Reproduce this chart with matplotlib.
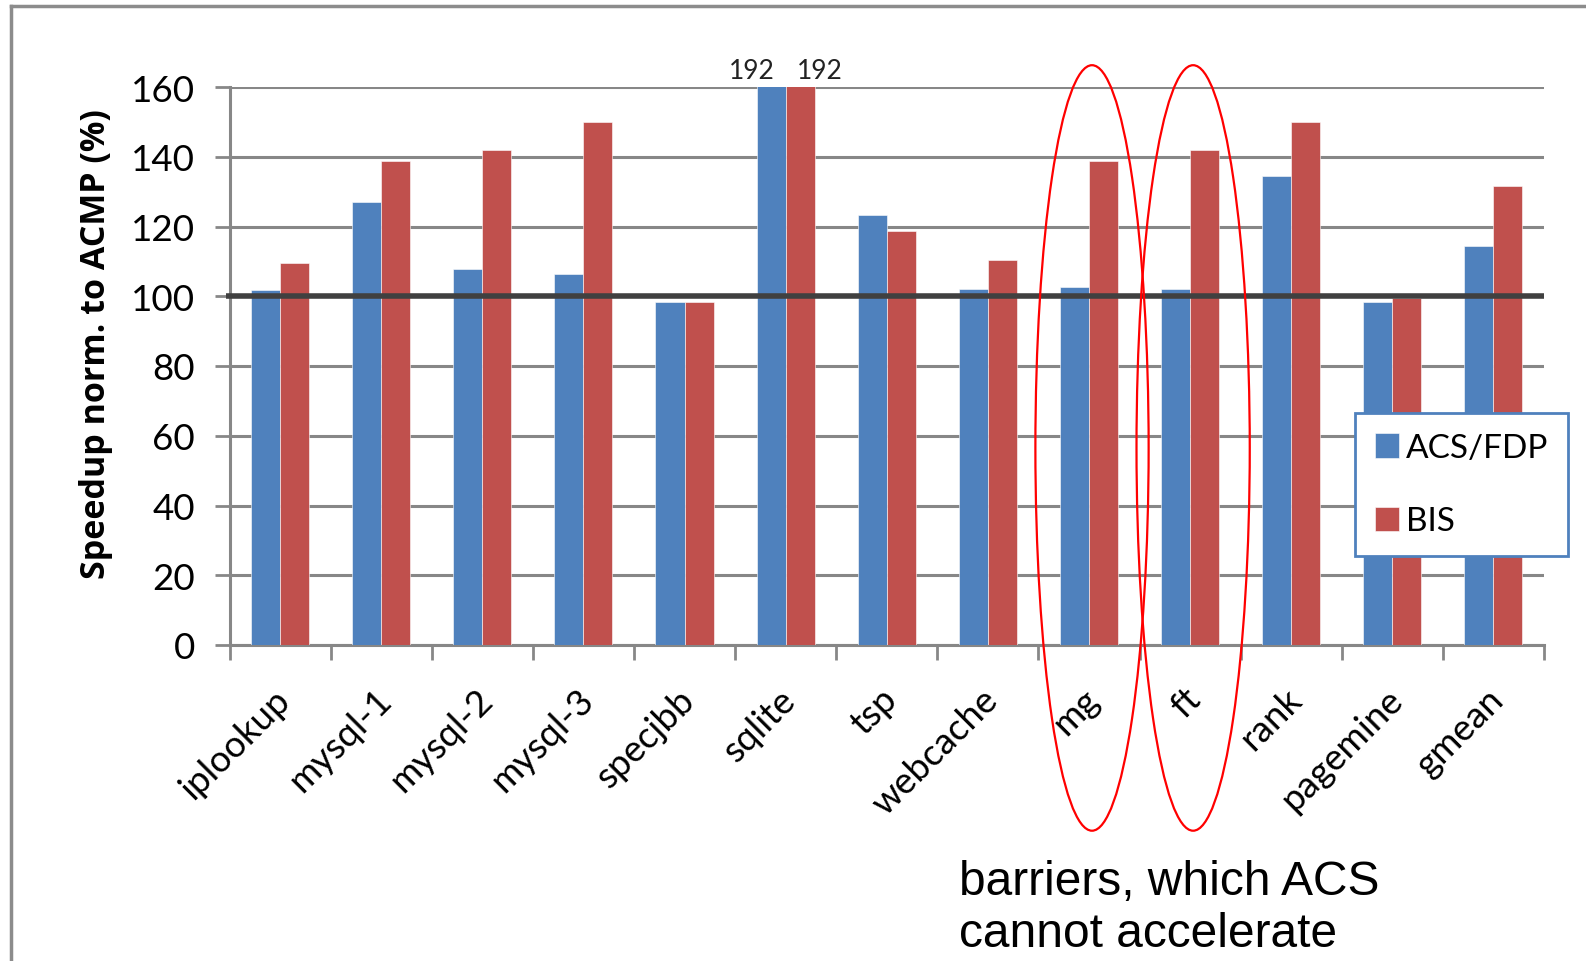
import matplotlib
matplotlib.use("Agg")
import matplotlib.pyplot as plt
from matplotlib.patches import Ellipse
from matplotlib.lines import Line2D
import numpy as np

categories = ["iplookup", "mysql-1", "mysql-2", "mysql-3", "specjbb", "sqlite",
              "tsp", "webcache", "mg", "ft", "rank", "pagemine", "gmean"]
acs_fdp = [101.8, 127.1, 107.8, 106.5, 98.3, 192, 123.3, 102.2, 102.7, 102.2, 134.6, 98.3, 114.3]
bis = [109.6, 138.8, 141.8, 150.1, 98.3, 192, 118.6, 110.5, 138.8, 141.8, 150.1, 99.5, 131.5]
series_names = ["ACS/FDP", "BIS"]
yticks = [0, 20, 40, 60, 80, 100, 120, 140, 160]
ymax = 160
baseline = 100
highlight = ["mg", "ft"]
note = "barriers, which ACS\ncannot accelerate"
ylabel = "Speedup norm. to ACMP (%)"

W, H, DPI = 1586, 962, 100
fig = plt.figure(figsize=(W / DPI, H / DPI), dpi=DPI)
fig.patch.set_facecolor("white")

def fx(px):
    return px / W

def fy(py):
    return 1 - py / H

ax = fig.add_axes([fx(229.5), fy(646), fx(1544) - fx(229.5), fy(88) - fy(646)])

BLUE = "#4F81BD"
RED = "#C0504D"
GRID = "#878787"
tick_font = "Lato"

x = np.arange(len(categories))
bw = 0.287
b1 = ax.bar(x - bw / 2, acs_fdp, bw, color=BLUE, label=series_names[0], zorder=3,
            edgecolor="white", linewidth=0.4)
b2 = ax.bar(x + bw / 2, bis, bw, color=RED, label=series_names[1], zorder=3,
            edgecolor="white", linewidth=0.4)

ax.set_xlim(-0.5, len(categories) - 0.5)
ax.set_ylim(0, ymax)
ax.set_yticks(yticks)
ax.set_yticklabels([str(v) for v in yticks], fontsize=26.5, family=tick_font)
ax.yaxis.grid(True, color=GRID, linewidth=2.2, zorder=0)
ax.set_axisbelow(True)

# x ticks at category boundaries, labels at centers
ax.set_xticks(np.arange(-0.5, len(categories), 1.0))
ax.set_xticklabels([])
ax.tick_params(axis="x", which="major", length=11, width=2, color=GRID, direction="out")
ax.tick_params(axis="y", which="major", length=11, width=2, color=GRID, direction="out", pad=14)
for i, c in enumerate(categories):
    ax.annotate(c, xy=(i, 0), xycoords="data", xytext=(3.5, -35), textcoords="offset points",
                rotation=45, ha="right", va="center", rotation_mode="anchor",
                fontsize=26.5, family=tick_font, annotation_clip=False)

for s in ["top", "right"]:
    ax.spines[s].set_visible(False)
for s in ["left", "bottom"]:
    ax.spines[s].set_color(GRID)
    ax.spines[s].set_linewidth(2.2)

# baseline at 100
ax.plot([-0.53, len(categories) - 0.5], [baseline, baseline], color="#404040", lw=4,
        zorder=5, clip_on=False, solid_capstyle="butt")

# labels for clipped values
for bars, vals, dx in [(b1, acs_fdp, -14), (b2, bis, 14)]:
    for rect, v in zip(bars, vals):
        if v > ymax:
            ax.annotate(f"{v:g}", xy=(rect.get_x() + rect.get_width() / 2, ymax),
                        xytext=(dx, 3), textcoords="offset points", ha="center", va="bottom",
                        fontsize=19, family=tick_font, color="#222222", annotation_clip=False)

fig.text(fx(96), fy(344), ylabel, rotation=90, ha="center", va="center",
         fontsize=24.5, fontweight="bold", family="Open Sans")

leg = ax.legend(handles=[b1, b2], labels=series_names, loc="upper left",
                bbox_to_anchor=((1355 - 229.5) / (1544 - 229.5), (646 - 414) / (646 - 88)),
                frameon=True, fancybox=False, framealpha=1, prop={"family": tick_font, "size": 24},
                handlelength=0.72, handleheight=0.75, handletextpad=0.2, labelspacing=1.3,
                borderpad=0.6, borderaxespad=0)
leg.get_frame().set_edgecolor(BLUE)
leg.get_frame().set_linewidth(2)
leg.set_zorder(10)

# ellipses highlighting barrier benchmarks
for name in highlight:
    i = categories.index(name)
    e = Ellipse((i + 0.03, 56.5), 1.12, 219.5, transform=ax.transData, fill=False,
                edgecolor="#FF0000", lw=1.6, zorder=11, clip_on=False)
    ax.add_patch(e)

fig.text(fx(959), fy(947), note, fontsize=34.5, family="Liberation Sans", ha="left",
         va="baseline", linespacing=1.2)

# outer frame
fig.add_artist(Line2D([fx(11), fx(11)], [fy(7), 0], color="#8C8C8C", lw=2.5))
fig.add_artist(Line2D([fx(11), 1], [fy(7), fy(7)], color="#8C8C8C", lw=2.5))

fig.savefig("out.png", dpi=DPI)
